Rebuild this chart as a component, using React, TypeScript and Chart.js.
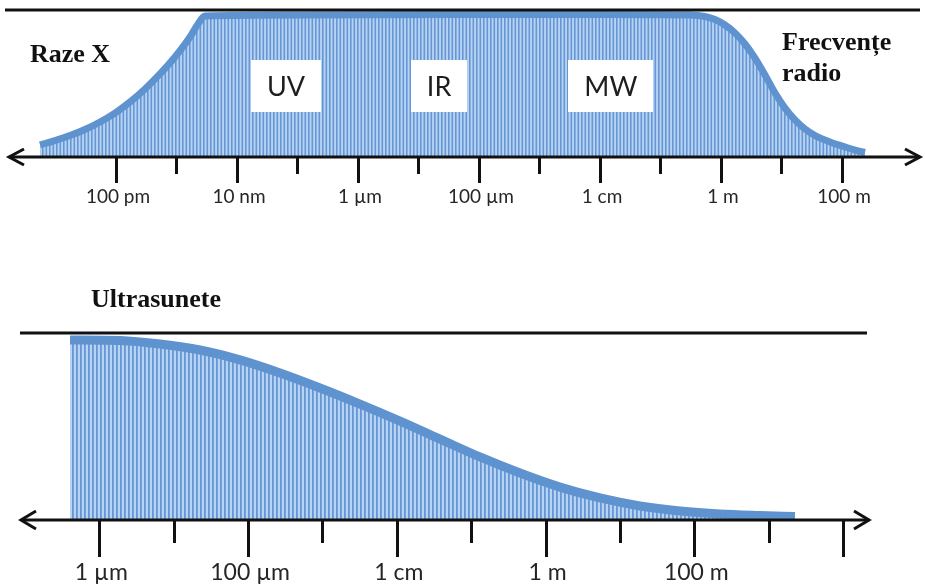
import { useEffect, useRef } from 'react';
import { Chart, registerables } from 'chart.js';

Chart.register(...registerables);

// Electromagnetic spectrum: log10(wavelength in metres) and relative transmission level (0–100)
const emLogWavelength = [
  -11.256, -11.008, -10.76, -10.512, -10.264, -10.017, -9.769, -9.521, -9.273, -9.025, -8.777, -8.645, -8.529,
  -6.959, -4.479, -2.0, -0.512, -0.264, -0.099, 0.066, 0.231, 0.397, 0.562, 0.727, 0.893, 1.058, 1.223, 1.388,
  1.554, 1.802, 2.05, 2.248, 2.38,
];
const emLevel = [
  8.2, 11.2, 14.6, 18.7, 23.8, 29.9, 37.4, 46.3, 56.5, 68.0, 81.6, 90.5, 95.9,
  96.6, 96.9, 96.9, 96.6, 95.6, 93.5, 89.8, 84.4, 76.9, 67.3, 55.8, 43.5, 33.3, 25.2, 19.0,
  14.6, 10.2, 6.8, 4.4, 3.1,
];

const emMajorLog = [-10, -8, -6, -4, -2, 0, 2];
const emMajorLabels = ['100 pm', '10 nm', '1 µm', '100 µm', '1 cm', '1 m', '100 m'];
const emMinorLog = [-9, -7, -5, -3, -1, 1];

const bandNames = ['UV', 'IR', 'MW'];
const bandLog = [-7.19, -4.66, -1.82];
const bandLevel = [48.3, 48.3, 48.3];

// Ultrasound: log10(wavelength in metres) and relative level
const usLogWavelength = [
  -6.395, -5.723, -5.185, -4.647, -4.109, -3.571, -3.033, -2.495, -1.957, -1.42, -0.882, -0.344, 0.194, 0.732,
  1.27, 1.808, 2.346, 2.884, 3.354,
];
const usLevel = [
  96.3, 96.0, 94.1, 90.9, 85.6, 78.6, 70.6, 62.0, 52.9, 43.3, 33.7, 25.1, 17.6, 11.8,
  7.5, 4.8, 3.2, 2.4, 1.9,
];

const usMajorLog = [-6, -4, -2, 0, 2, 4];
const usMajorLabels = ['1 µm', '100 µm', '1 cm', '1 m', '100 m', ''];
const usMinorLog = [-5, -3, -1, 1, 3];

const LINE_BLUE = '#5f93cf';
const STRIPE_DARK = '#6697d4';
const STRIPE_LIGHT = '#b7d3f3';
const INK = '#111111';

function stripes(period: number, offsets: number[], width: number): CanvasPattern | string {
  const c = document.createElement('canvas');
  c.width = period;
  c.height = 8;
  const g = c.getContext('2d');
  if (!g) return STRIPE_LIGHT;
  g.fillStyle = STRIPE_LIGHT;
  g.fillRect(0, 0, period, 8);
  g.fillStyle = STRIPE_DARK;
  offsets.forEach((o) => g.fillRect(o, 0, width, 8));
  return g.createPattern(c, 'repeat') || STRIPE_LIGHT;
}

type AxisSpec = {
  majors: number[];
  minors: number[];
  labels: string[];
  majorLen: number;
  minorLen: number;
  labelFont: string;
  labelGap: number;
  ceilLeft: number;
  ceilRight: number;
  arrowLen: number;
  arrowHalf: number;
  extra?: (ctx: CanvasRenderingContext2D, chart: Chart) => void;
};

function axisPlugin(spec: AxisSpec) {
  return {
    id: 'spectrumAxis',
    afterDatasetsDraw(chart: Chart) {
      const ctx = chart.ctx;
      const xs = chart.scales.x;
      const ys = chart.scales.y;
      const area = chart.chartArea;
      const axisY = ys.getPixelForValue(0);
      const ceilY = ys.getPixelForValue(100);
      ctx.save();
      ctx.strokeStyle = INK;
      ctx.fillStyle = INK;
      ctx.lineWidth = 3;
      ctx.lineCap = 'butt';

      // ceiling line
      ctx.beginPath();
      ctx.moveTo(area.left + spec.ceilLeft, ceilY);
      ctx.lineTo(area.right + spec.ceilRight, ceilY);
      ctx.stroke();

      // double-headed axis
      ctx.beginPath();
      ctx.moveTo(area.left + 1, axisY);
      ctx.lineTo(area.right - 1, axisY);
      ctx.stroke();
      ctx.lineJoin = 'miter';
      ctx.beginPath();
      ctx.moveTo(area.left + spec.arrowLen, axisY - spec.arrowHalf);
      ctx.lineTo(area.left + 1, axisY);
      ctx.lineTo(area.left + spec.arrowLen, axisY + spec.arrowHalf);
      ctx.stroke();
      ctx.beginPath();
      ctx.moveTo(area.right - spec.arrowLen, axisY - spec.arrowHalf);
      ctx.lineTo(area.right - 1, axisY);
      ctx.lineTo(area.right - spec.arrowLen, axisY + spec.arrowHalf);
      ctx.stroke();

      // ticks
      const tick = (v: number, len: number) => {
        const px = Math.round(xs.getPixelForValue(v)) + 0.5;
        ctx.beginPath();
        ctx.moveTo(px, axisY);
        ctx.lineTo(px, axisY + len);
        ctx.stroke();
      };
      spec.majors.forEach((v) => tick(v, spec.majorLen));
      spec.minors.forEach((v) => tick(v, spec.minorLen));

      // labels
      ctx.fillStyle = '#262626';
      ctx.font = spec.labelFont;
      ctx.textAlign = 'center';
      ctx.textBaseline = 'alphabetic';
      spec.majors.forEach((v, i) => {
        if (spec.labels[i]) ctx.fillText(spec.labels[i], xs.getPixelForValue(v) + 2, axisY + spec.labelGap);
      });

      if (spec.extra) spec.extra(ctx, chart);
      ctx.restore();
    },
  };
}

const serifBold = 'bold 26px "Liberation Serif", "Times New Roman", serif';

export default function App() {
  const topRef = useRef<HTMLCanvasElement>(null);
  const botRef = useRef<HTMLCanvasElement>(null);

  useEffect(() => {
    if (!topRef.current || !botRef.current) return;

    const topPlugin = axisPlugin({
      majors: emMajorLog,
      minors: emMinorLog,
      labels: emMajorLabels,
      majorLen: 26,
      minorLen: 17,
      labelFont: '19px Lato, "Open Sans", sans-serif',
      labelGap: 46,
      ceilLeft: -3,
      ceilRight: -1,
      arrowLen: 16,
      arrowHalf: 8,
      extra: (ctx, chart) => {
        const xs = chart.scales.x;
        const ys = chart.scales.y;
        // band labels in white boxes
        ctx.font = '27px Lato, "Open Sans", sans-serif';
        ctx.textAlign = 'center';
        ctx.textBaseline = 'middle';
        bandNames.forEach((name, i) => {
          const cx = xs.getPixelForValue(bandLog[i]);
          const cy = ys.getPixelForValue(bandLevel[i]);
          const w = ctx.measureText(name).width + 32;
          ctx.fillStyle = '#ffffff';
          ctx.fillRect(Math.round(cx - w / 2), Math.round(cy - 26), Math.round(w), 52);
          ctx.fillStyle = '#1e1e1e';
          ctx.fillText(name, cx, cy + 1);
        });
        // region names
        ctx.fillStyle = '#111';
        ctx.font = serifBold;
        ctx.textAlign = 'left';
        ctx.textBaseline = 'alphabetic';
        ctx.fillText('Raze X', 30, 62);
        ctx.fillText('Frecvențe', 782, 50);
        ctx.fillText('radio', 782, 81);
      },
    });

    const topChart = new Chart(topRef.current, {
      type: 'line',
      data: {
        datasets: [
          {
            data: emLogWavelength.map((x, i) => ({ x, y: emLevel[i] })),
            borderColor: LINE_BLUE,
            borderWidth: 7,
            backgroundColor: stripes(7, [0, 3.5], 1.6) as any,
            fill: 'origin',
            cubicInterpolationMode: 'monotone',
            pointRadius: 0,
            clip: false as any,
          },
        ],
      },
      options: {
        responsive: false,
        animation: false,
        devicePixelRatio: 1,
        events: [],
        layout: { padding: { left: 8, right: 4, top: 10, bottom: 73 } },
        scales: {
          x: { type: 'linear', display: false, min: -11.785, max: 3.306 },
          y: { display: false, min: 0, max: 100 },
        },
        plugins: { legend: { display: false }, tooltip: { enabled: false } },
      },
      plugins: [topPlugin],
    });

    const botPlugin = axisPlugin({
      majors: usMajorLog,
      minors: usMinorLog,
      labels: usMajorLabels,
      majorLen: 37,
      minorLen: 23,
      labelFont: '23px Lato, "Open Sans", sans-serif',
      labelGap: 60,
      ceilLeft: 0,
      ceilRight: -3,
      arrowLen: 16,
      arrowHalf: 9,
      extra: (ctx) => {
        ctx.fillStyle = '#111';
        ctx.font = serifBold;
        ctx.textAlign = 'left';
        ctx.textBaseline = 'alphabetic';
        ctx.fillText('Ultrasunete', 91, 67);
      },
    });

    const botChart = new Chart(botRef.current, {
      type: 'line',
      data: {
        datasets: [
          {
            data: usLogWavelength.map((x, i) => ({ x, y: usLevel[i] })),
            borderColor: LINE_BLUE,
            borderWidth: 9,
            backgroundColor: stripes(4, [0], 1.8) as any,
            fill: 'origin',
            cubicInterpolationMode: 'monotone',
            pointRadius: 0,
            clip: false as any,
          },
        ],
      },
      options: {
        responsive: false,
        animation: false,
        devicePixelRatio: 1,
        events: [],
        layout: { padding: { left: 20, right: 55, top: 93, bottom: 67 } },
        scales: {
          x: { type: 'linear', display: false, min: -7.068, max: 4.363 },
          y: { display: false, min: 0, max: 100 },
        },
        plugins: { legend: { display: false }, tooltip: { enabled: false } },
      },
      plugins: [botPlugin],
    });

    return () => {
      topChart.destroy();
      botChart.destroy();
    };
  }, []);

  return (
    <div style={{ position: 'fixed', left: 0, top: 0, width: 925, height: 587, background: '#ffffff' }}>
      <canvas ref={topRef} width={925} height={230} style={{ position: 'absolute', left: 0, top: 0 }} />
      <canvas ref={botRef} width={925} height={347} style={{ position: 'absolute', left: 0, top: 240 }} />
    </div>
  );
}
